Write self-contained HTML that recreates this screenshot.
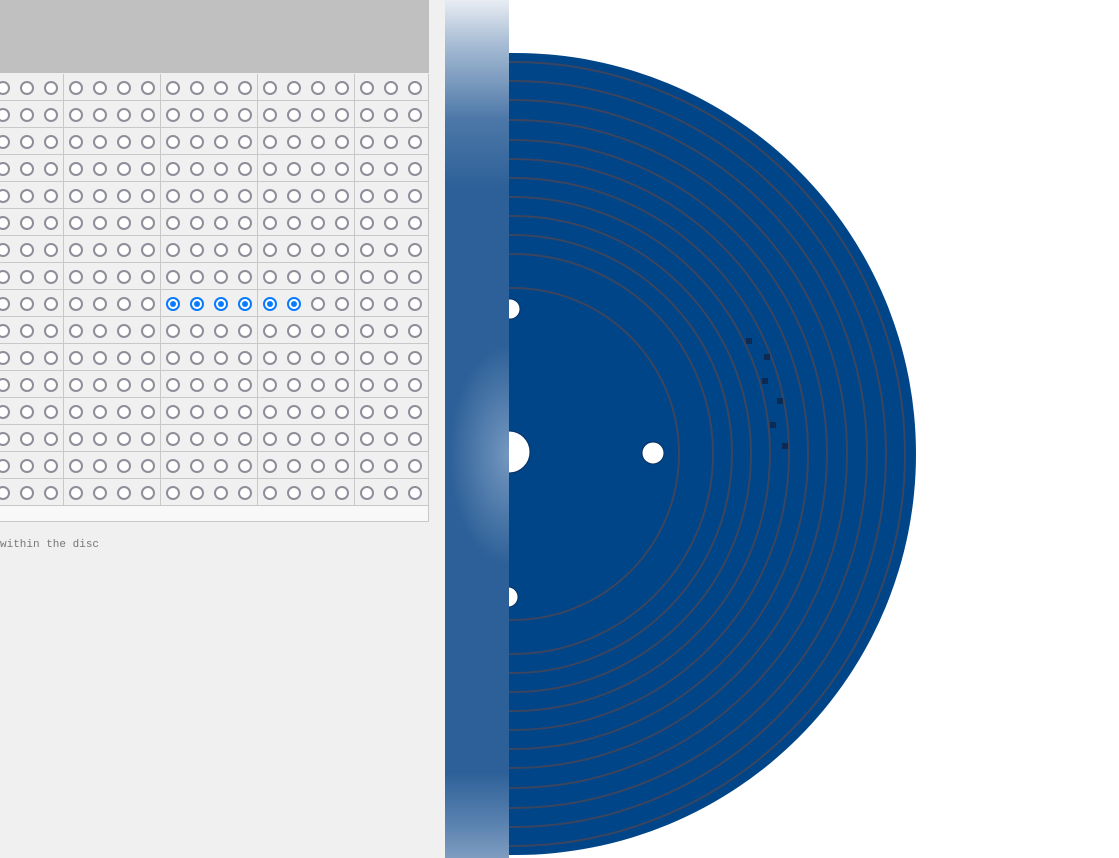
<!DOCTYPE html>
<html><head><meta charset="utf-8"><style>
body{margin:0;width:1119px;height:858px;overflow:hidden;background:#fff;position:relative;font-family:"Liberation Sans",sans-serif}
#left{position:absolute;left:0;top:0;width:445px;height:858px;background:#f0f0f0}
#hdr{position:absolute;left:0;top:0;width:429px;height:73px;background:#c0c0c0}
#grid{position:absolute;left:0;top:74px;width:428px;height:447px;border-right:1px solid #c8c8c8;border-bottom:1px solid #c8c8c8}
#foot{position:absolute;left:0;top:431px;width:428px;height:15px;background:#f8f8f8;border-top:1px solid #c8c8c8}
.row{position:absolute;left:0;width:428px;height:26px;border-bottom:1px solid #c8c8c8}
.sep{position:absolute;top:0;width:1px;height:431px;background:#c8c8c8}
.r{position:absolute;width:10px;height:10px;border:2px solid #8e8e99;border-radius:50%;background:#fff}
.r.on{border-color:#0a7aff;background:#fff}
.r.on::after{content:"";position:absolute;left:2px;top:2px;width:6px;height:6px;border-radius:50%;background:#0a7aff}
#cap{position:absolute;left:0;top:539px;font:11px "Liberation Mono",monospace;color:#777}
#strip{position:absolute;left:445px;top:0;width:64px;height:858px;background:radial-gradient(ellipse 60px 110px at 64px 455px,rgba(140,170,205,0.75),rgba(45,96,152,0) 100%),linear-gradient(#e8edf3 0%,#a9bdd5 5%,#4c77a8 14%,#2d6098 22%,#2d6098 90%,#5a82b0 96%,#7e9cc0 100%)}
</style></head><body>
<div id="left">
<div id="hdr"></div>
<div id="grid"><div id="foot"></div></div>
<div id="cap">within the disc</div>
</div>
<svg style="position:absolute;left:0;top:0" width="1119" height="858">
<defs><clipPath id="cp"><rect x="509" y="0" width="610" height="858"/></clipPath></defs>
<g clip-path="url(#cp)">
<circle cx="515" cy="454" r="401" fill="#004587"/>
<g id="rings" fill="none" stroke="#3a4560" stroke-width="2"></g>
<g fill="#0d2a55">
<rect x="746" y="338" width="6" height="6"/><rect x="764" y="354" width="6" height="6"/><rect x="762" y="378" width="6" height="6"/><rect x="777" y="398" width="6" height="6"/><rect x="770" y="422" width="6" height="6"/><rect x="782" y="443" width="6" height="6"/>
</g>
<g fill="#fff" stroke="#0a2f60" stroke-width="1">
<circle cx="509" cy="452" r="21"/><circle cx="510" cy="309" r="10"/><circle cx="508" cy="597" r="10"/><circle cx="653" cy="453" r="11"/>
</g>
</g>
</svg>
<div id="strip"></div>
<script>
const ringRadii=[166,200,219,238,257,276,295,314,334,354,373,392];
const g=document.getElementById('rings');
ringRadii.forEach(r=>{const c=document.createElementNS('http://www.w3.org/2000/svg','circle');c.setAttribute('cx',513);c.setAttribute('cy',454);c.setAttribute('r',r);


g.appendChild(c);});
const grid=document.getElementById('grid');
const xs=[3,27,51,76,100,124,148,173,197,221,245,270,294,318,342,367,391,415];
const seps=[63,160,257,354];
const selectedRow=8, selectedCols=[7,8,9,10,11,12];
for(let i=0;i<16;i++){const row=document.createElement('div');row.className='row';row.style.top=(i*27)+'px';


grid.appendChild(row);
xs.forEach((x,j)=>{const r=document.createElement('div');r.className='r'+(i===selectedRow&&selectedCols.includes(j)?' on':'');r.style.left=(x-7)+'px';r.style.top=(i*27+7)+'px';


grid.appendChild(r);});}
seps.forEach(x=>{const s=document.createElement('div');s.className='sep';s.style.left=x+'px';


grid.appendChild(s);});
</script>
</body></html>
